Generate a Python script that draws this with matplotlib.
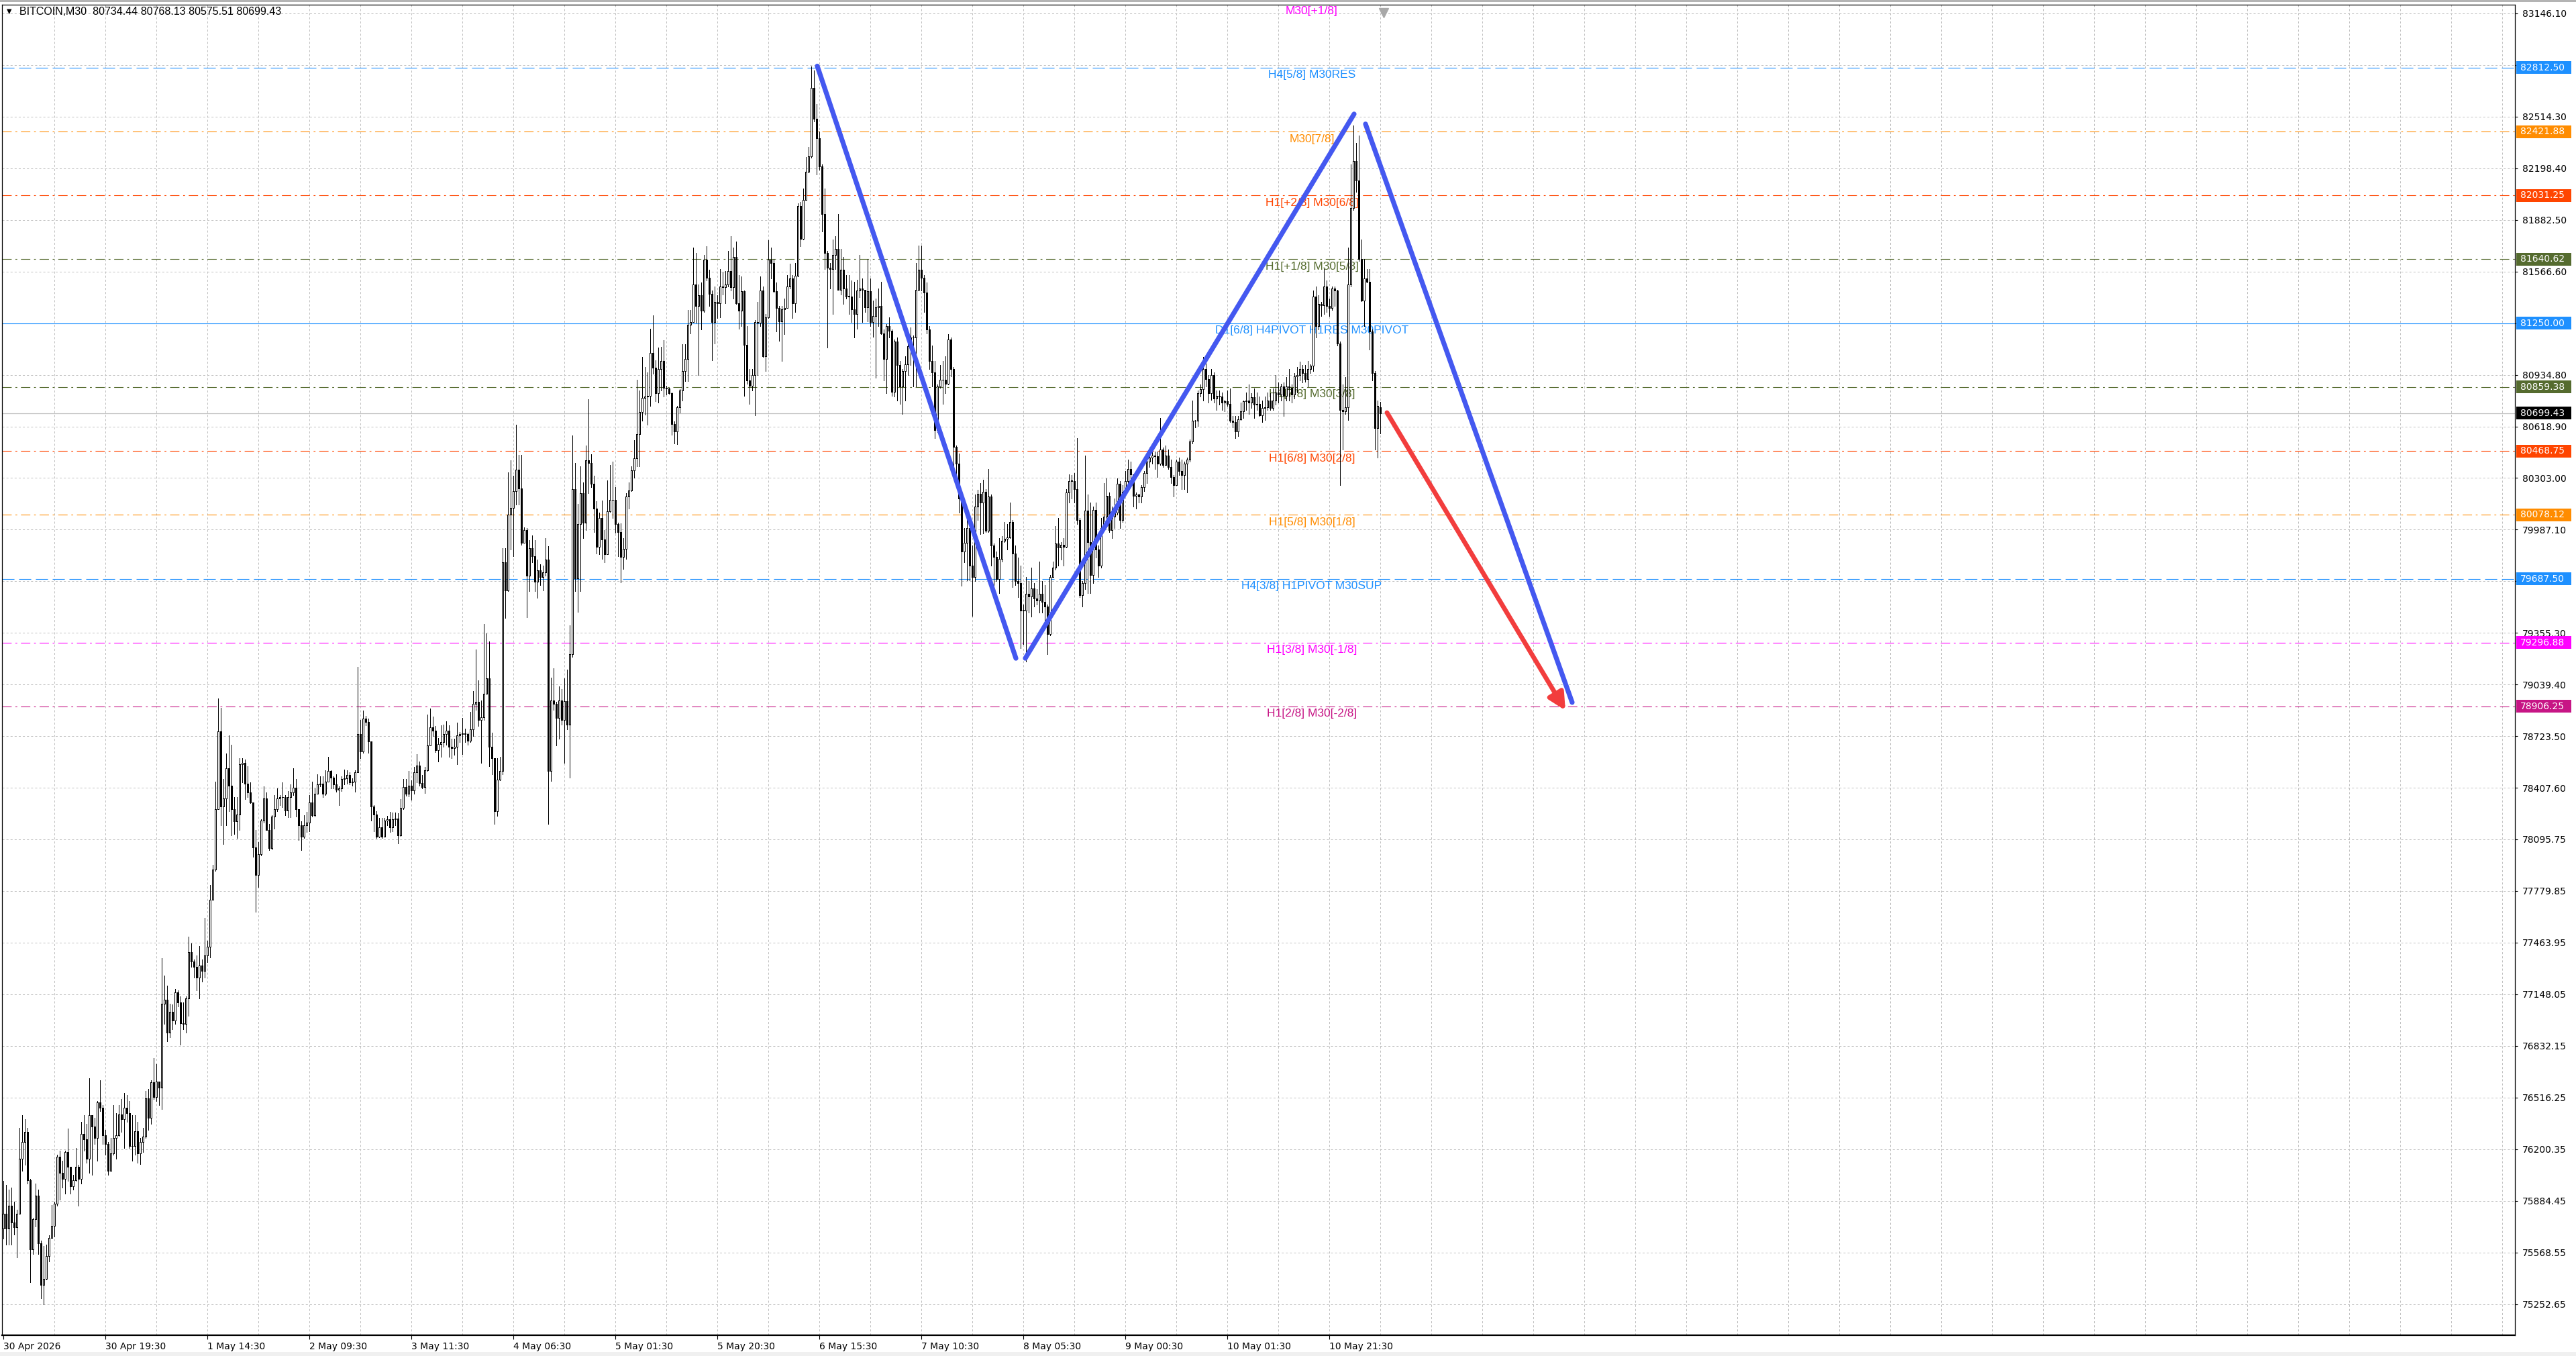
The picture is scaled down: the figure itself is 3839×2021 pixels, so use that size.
import matplotlib
matplotlib.use("Agg")
import matplotlib.pyplot as plt
import numpy as np
from matplotlib.patches import Rectangle
from matplotlib.transforms import blended_transform_factory

plt.rcParams["lines.scale_dashes"] = False

# BITCOIN M30 candles (open = previous close)
first_open = 75715
last_bar = [80734.44, 80768.13, 80575.51, 80699.43]  # O H L C of the live bar

closes = [
    75803, 75715, 75853, 75753, 75722, 75803, 76142, 76243, 76305, 76009,
    75589, 75770, 75916, 75622, 75371, 75406, 75546, 75657, 75732, 75866,
    76155, 76054, 76016, 76180, 76092, 75974, 76009, 76092, 76016, 76293,
    76260, 76142, 76406, 76336, 76268, 76486, 76451, 76285, 76230, 76067,
    76175, 76268, 76285, 76411, 76381, 76451, 76419, 76217, 76217, 76310,
    76175, 76243, 76275, 76512, 76393, 76607, 76519, 76612, 76577, 77089,
    77115, 76914, 77039, 76984, 77160, 77097, 76971, 76966, 77122, 77404,
    77348, 77316, 77248, 77323, 77291, 77386, 77436, 77725, 77909, 78278,
    78756, 78296, 78346, 78529, 78421, 78278, 78203, 78245, 78555, 78562,
    78436, 78379, 78321, 78044, 77876, 78002, 78210, 78346, 78152, 78039,
    78235, 78278, 78346, 78354, 78351, 78271, 78354, 78379, 78411, 78278,
    78178, 78110, 78178, 78195, 78321, 78240, 78371, 78429, 78436, 78371,
    78447, 78512, 78472, 78429, 78396, 78404, 78462, 78467, 78487, 78441,
    78447, 78504, 78738, 78630, 78831, 78813, 78693, 78296, 78245, 78110,
    78168, 78110, 78208, 78217, 78168, 78217, 78221, 78119, 78286, 78414,
    78374, 78423, 78394, 78502, 78547, 78437, 78414, 78516, 78669, 78777,
    78757, 78639, 78678, 78688, 78737, 78757, 78659, 78653, 78659, 78731,
    78737, 78741, 78737, 78698, 78767, 78924, 78933, 78825, 78841, 78986,
    79077, 78659, 78590, 78266, 78457, 78512, 79787, 79614, 80081, 80120,
    80222, 80356, 80238, 79908, 79987, 79708, 79875, 79826, 79669, 79738,
    79699, 79728, 79803, 78512, 78943, 78924, 78835, 78943, 78825, 78939,
    78796, 79228, 80234, 79689, 80022, 80209, 80032, 80411, 80395, 80268,
    80116, 79881, 80058, 79928, 79836, 80101, 80169, 80169, 80022, 79973,
    79822, 79869, 80189, 80228, 80352, 80425, 80572, 80709, 80792, 80803,
    80807, 81070, 80977, 80823, 80970, 81020, 80856, 80850, 80823, 80635,
    80587, 80737, 80840, 80956, 81031, 81239, 81258, 81486, 81354, 81421,
    81325, 81637, 81527, 81431, 81258, 81378, 81373, 81474, 81469, 81486,
    81570, 81469, 81654, 81373, 81325, 81445, 81119, 80898, 80869, 80934,
    81258, 81253, 81450, 81047, 81287, 81637, 81618, 81445, 81342, 81263,
    81335, 81342, 81474, 81522, 81373, 81541, 81966, 81767, 82002, 82175,
    82271, 82687, 82502, 82382, 82207, 81918, 81678, 81590, 81582, 81666,
    81702, 81455, 81575, 81462, 81414, 81414, 81335, 81306, 81450, 81462,
    81455, 81349, 81445, 81258, 81294, 81349, 81354, 81186, 81030, 81234,
    81205, 80830, 81138, 80994, 80862, 80958, 80999, 81109, 81162, 81162,
    81455, 81575, 81527, 81438, 81210, 81018, 80950, 80597, 80862, 80902,
    80902, 80878, 81150, 80970, 80494, 80393, 80177, 79853, 79908, 79997,
    79768, 79697, 80129, 80206, 80153, 80220, 79980, 80189, 79889, 79821,
    79684, 79809, 79918, 79932, 79941, 80033, 79841, 79673, 79661, 79493,
    79493, 79596, 79577, 79629, 79565, 79553, 79596, 79548, 79517, 79348,
    79697, 79757, 79901, 79877, 79894, 79884, 80213, 80285, 80285, 80237,
    80045, 79588, 79661, 80105, 79913, 79709, 80110, 79865, 79768, 79997,
    80069, 80196, 79985, 80069, 80093, 80268, 80045, 80220, 80285, 80357,
    80326, 80196, 80201, 80189, 80249, 80333, 80405, 80429, 80441, 80436,
    80393, 80477, 80381, 80441, 80369, 80309, 80261, 80405, 80345, 80321,
    80393, 80417, 80525, 80652, 80652, 80821, 80845, 80970, 80910, 80821,
    80934, 80790, 80807, 80802, 80766, 80773, 80758, 80652, 80646, 80590,
    80662, 80711, 80773, 80778, 80766, 80797, 80754, 80758, 80686, 80730,
    80734, 80778, 80730, 80778, 80826, 80814, 80862, 80807, 80862, 80854,
    80814, 80926, 80934, 80970, 80946, 80910, 80970, 80989, 81414, 81234,
    81366, 81359, 81474, 81354, 81342, 81462, 81450, 81126, 80718, 80711,
    80734, 81486, 81955, 82243, 82123, 81642, 81390, 81522, 81503, 81198,
    80946, 80609, 80742,
]

highs = [
    76004, 75979, 75954, 75966, 75878, 75828, 76331, 76406, 76381, 76331,
    76016, 75778, 75991, 75954, 75639, 75607, 75614, 75672, 75858, 75878,
    76167, 76192, 76130, 76192, 76326, 76092, 76042, 76205, 76104, 76368,
    76406, 76356, 76632, 76406, 76393, 76494, 76620, 76469, 76318, 76243,
    76268, 76469, 76419, 76469, 76506, 76544, 76532, 76494, 76406, 76406,
    76368, 76268, 76331, 76557, 76569, 76620, 76758, 76720, 76607, 77366,
    77260, 77198, 77089, 77084, 77180, 77172, 77135, 77097, 77135, 77499,
    77456, 77361, 77386, 77441, 77361, 77612, 77474, 77813, 77939, 78447,
    78957, 78899, 78462, 78617, 78730, 78673, 78354, 78354, 78592, 78592,
    78580, 78542, 78441, 78278, 78152, 78077, 78215, 78416, 78379, 78190,
    78240, 78366, 78404, 78366, 78441, 78366, 78391, 78429, 78529, 78462,
    78266, 78203, 78240, 78261, 78366, 78447, 78404, 78492, 78479, 78479,
    78517, 78597, 78517, 78479, 78492, 78416, 78479, 78522, 78517, 78504,
    78467, 78517, 79150, 78823, 78881, 78849, 78831, 78555, 78303, 78266,
    78227, 78227, 78227, 78237, 78260, 78257, 78257, 78253, 78339, 78463,
    78463, 78512, 78453, 78535, 78614, 78571, 78488, 78535, 78855, 78894,
    78845, 78786, 78712, 78790, 78796, 78816, 78790, 78708, 78708, 78806,
    78751, 78835, 78771, 78747, 78875, 79002, 79253, 79065, 78943, 79410,
    79355, 79306, 78747, 78590, 78590, 78600, 79875, 79875, 80336, 80411,
    80317, 80630, 80444, 80444, 80003, 79999, 79924, 79954, 79924, 79806,
    79777, 79767, 79934, 79885, 79084, 79139, 78933, 79031, 79012, 79077,
    79130, 79404, 80562, 80395, 80144, 80375, 80277, 80503, 80784, 80450,
    80317, 80160, 80091, 80164, 79983, 80287, 80381, 80405, 80248, 80032,
    80026, 79934, 80209, 80277, 80375, 80533, 80905, 80837, 81045, 80983,
    80949, 81216, 81298, 81024, 81100, 81106, 81147, 80867, 80853, 80826,
    80648, 80744, 80847, 81120, 81120, 81332, 81330, 81714, 81678, 81486,
    81498, 81666, 81719, 81575, 81450, 81474, 81421, 81582, 81565, 81570,
    81690, 81781, 81714, 81750, 81546, 81534, 81450, 81234, 80970, 80970,
    81270, 81378, 81534, 81474, 81306, 81758, 81714, 81642, 81498, 81354,
    81354, 81402, 81546, 81613, 81546, 81618, 81983, 81990, 82074, 82267,
    82327, 82819, 82795, 82591, 82423, 82219, 82074, 81690, 81618, 81762,
    81781, 81918, 81702, 81654, 81546, 81546, 81510, 81503, 81517, 81666,
    81522, 81450, 81642, 81522, 81390, 81402, 81462, 81503, 81210, 81246,
    81287, 81210, 81150, 81162, 81018, 80970, 81047, 81126, 81222, 81174,
    81618, 81726, 81726, 81546, 81498, 81234, 81114, 81018, 80874, 80994,
    81018, 81047, 81181, 81162, 80982, 80501, 80453, 80201, 79997, 80105,
    80009, 79889, 80201, 80230, 80273, 80292, 80237, 80357, 80201, 79901,
    79853, 79937, 79949, 80033, 80021, 80153, 80045, 79889, 79817, 79768,
    79529, 79697, 79673, 79757, 79661, 79625, 79793, 79673, 79649, 79529,
    79709, 79793, 80009, 80057, 79913, 79937, 80237, 80326, 80321, 80333,
    80549, 80057, 79673, 80441, 80201, 80153, 80129, 80153, 79889, 80057,
    80273, 80302, 80213, 80129, 80177, 80302, 80285, 80261, 80345, 80417,
    80405, 80230, 80213, 80206, 80261, 80345, 80417, 80489, 80513, 80465,
    80465, 80669, 80489, 80501, 80477, 80417, 80321, 80417, 80429, 80417,
    80405, 80429, 80537, 80777, 80657, 80838, 80874, 81042, 81054, 80934,
    80970, 80950, 80838, 80838, 80826, 80782, 80838, 80850, 80682, 80682,
    80682, 80766, 80778, 80826, 80874, 80821, 80850, 80826, 80802, 80778,
    80802, 80826, 80821, 80850, 80934, 80886, 80878, 80886, 80922, 80970,
    80874, 80946, 80982, 81013, 80994, 80994, 81018, 80999, 81450, 81474,
    81421, 81378, 81582, 81510, 81402, 81474, 81474, 81455, 81138, 80874,
    80922, 81714, 82219, 82459, 82351, 82399, 81762, 81642, 81582, 81582,
    81210, 80958, 80778,
]

lows = [
    75652, 75614, 75614, 75614, 75677, 75539, 75803, 76067, 76104, 75991,
    75388, 75557, 75727, 75557, 75288, 75250, 75401, 75514, 75657, 75665,
    75853, 75891, 75966, 75928, 76004, 75928, 75954, 76004, 75853, 75991,
    76192, 76117, 76054, 76042, 76230, 76130, 76431, 76230, 76167, 76042,
    76067, 76167, 76142, 76280, 76305, 76205, 76368, 76205, 76130, 76167,
    76117, 76109, 76180, 76268, 76318, 76356, 76506, 76494, 76469, 76444,
    76964, 76858, 76883, 76934, 76966, 77072, 76838, 76934, 76914, 77014,
    77316, 77248, 77172, 77122, 77223, 77248, 77341, 77373, 77725, 77901,
    78278, 78178, 78065, 78178, 78266, 78120, 78127, 78102, 78152, 78441,
    78341, 78354, 78316, 77989, 77650, 77801, 77994, 78195, 78152, 78027,
    78034, 78160, 78266, 78303, 78291, 78240, 78228, 78228, 78366, 78235,
    78090, 78027, 78102, 78140, 78145, 78235, 78235, 78371, 78416, 78354,
    78366, 78447, 78404, 78404, 78386, 78303, 78391, 78429, 78436, 78429,
    78421, 78386, 78504, 78592, 78622, 78793, 78622, 78210, 78145, 78100,
    78104, 78100, 78115, 78178, 78139, 78143, 78178, 78070, 78115, 78280,
    78359, 78355, 78335, 78374, 78443, 78423, 78404, 78378, 78512, 78669,
    78727, 78629, 78570, 78600, 78659, 78672, 78600, 78590, 78610, 78555,
    78688, 78614, 78688, 78672, 78688, 78727, 78884, 78786, 78561, 78825,
    78982, 78541, 78492, 78188, 78237, 78453, 78492, 79449, 79610, 79865,
    79826, 80140, 80140, 79895, 79924, 79453, 79610, 79787, 79610, 79571,
    79650, 79614, 79708, 78188, 78449, 78884, 78669, 78708, 78796, 78561,
    78767, 78472, 79208, 79610, 79483, 79610, 79934, 79987, 80209, 80248,
    79973, 79842, 79836, 79807, 79787, 79973, 80097, 80058, 79967, 79826,
    79665, 79748, 79807, 80116, 80222, 80306, 80375, 80375, 80655, 80689,
    80628, 80744, 80942, 80771, 80765, 80840, 80801, 80812, 80819, 80566,
    80514, 80512, 80703, 80778, 80895, 80895, 81186, 81258, 81253, 80934,
    81210, 81318, 81510, 81354, 81022, 81126, 81282, 81287, 81426, 81373,
    81474, 81450, 81402, 81366, 81215, 81234, 80807, 80878, 80758, 80838,
    80686, 80934, 81234, 81042, 80958, 81282, 81522, 81438, 81198, 81143,
    81018, 81181, 81342, 81462, 81282, 81318, 81534, 81719, 81762, 82007,
    82171, 82262, 82483, 82159, 82190, 81811, 81582, 81102, 81462, 81306,
    81582, 81455, 81426, 81366, 81402, 81306, 81258, 81162, 81215, 81407,
    81258, 81318, 81263, 81234, 81167, 80917, 81234, 81181, 80898, 80821,
    81162, 80807, 80802, 80778, 80758, 80693, 80778, 80934, 80994, 80862,
    80862, 81450, 81450, 81318, 81186, 80970, 80862, 80549, 80585, 80854,
    80758, 80821, 80874, 80926, 80321, 80261, 80093, 79644, 79788, 79677,
    79677, 79461, 79673, 80045, 79961, 79965, 79973, 79973, 79768, 79576,
    79673, 79601, 79793, 79913, 79865, 79937, 79637, 79649, 79576, 79264,
    79288, 79180, 79481, 79457, 79517, 79529, 79481, 79481, 79433, 79228,
    79341, 79697, 79745, 79768, 79805, 79768, 79877, 80153, 80177, 80153,
    80021, 79576, 79517, 79625, 79601, 79601, 79661, 79817, 79697, 79757,
    79985, 80057, 79973, 79937, 79997, 80081, 79997, 80033, 80201, 80261,
    80261, 80129, 80117, 80153, 80153, 80225, 80273, 80369, 80393, 80357,
    80309, 80381, 80369, 80381, 80357, 80273, 80189, 80333, 80321, 80237,
    80237, 80213, 80405, 80513, 80614, 80621, 80802, 80778, 80862, 80766,
    80782, 80766, 80718, 80754, 80718, 80711, 80742, 80646, 80614, 80549,
    80561, 80657, 80669, 80718, 80693, 80730, 80669, 80718, 80682, 80646,
    80657, 80718, 80718, 80718, 80754, 80766, 80778, 80682, 80778, 80778,
    80766, 80790, 80826, 80898, 80886, 80893, 80862, 80946, 80958, 81162,
    81210, 81294, 81306, 81318, 81294, 81330, 81354, 81114, 80261, 80477,
    80693, 80657, 81474, 81943, 82051, 81630, 81383, 81234, 81498, 81090,
    80898, 80477, 80429,
]

# Murrey math levels drawn on the chart
level_prices = [83203.12, 82812.50, 82421.88, 82031.25, 81640.62, 81250.00,
                80859.38, 80468.75, 80078.12, 79687.50, 79296.88, 78906.25]
level_names = ["M30[+1/8]", "H4[5/8] M30RES", "M30[7/8]", "H1[+2/8] M30[6/8]",
               "H1[+1/8] M30[5/8]", "D1[6/8] H4PIVOT H1RES M30PIVOT",
               "H1[7/8] M30[3/8]", "H1[6/8] M30[2/8]", "H1[5/8] M30[1/8]",
               "H4[3/8] H1PIVOT M30SUP", "H1[3/8] M30[-1/8]", "H1[2/8] M30[-2/8]"]
level_colors = ["#FF00FF", "#1E90FF", "#FF8C00", "#FF4500", "#556B2F", "#1E90FF",
                "#556B2F", "#FF4500", "#FF8C00", "#1E90FF", "#FF00FF", "#C71585"]
level_styles = ["dashdot", "dash", "dashdot", "dashdot", "dashdot", "solid",
                "dashdot", "dashdot", "dashdot", "dash", "dashdot", "dashdot"]

price_ticks = [83146.10, 82830.20, 82514.30, 82198.40, 81882.50, 81566.60, 81250.70,
               80934.80, 80618.90, 80303.00, 79987.10, 79671.20, 79355.30, 79039.40,
               78723.50, 78407.60, 78095.75, 77779.85, 77463.95, 77148.05, 76832.15,
               76516.25, 76200.35, 75884.45, 75568.55, 75252.65]

time_labels = ["30 Apr 2026", "30 Apr 19:30", "1 May 14:30", "2 May 09:30",
               "3 May 11:30", "4 May 06:30", "5 May 01:30", "5 May 20:30",
               "6 May 15:30", "7 May 10:30", "8 May 05:30", "9 May 00:30",
               "10 May 01:30", "10 May 21:30"]
bars_per_label = 38

# hand drawn zigzag (bar index, price) and the red forecast arrow
wave_bars = [[303.25, 377.25], [380.75, 503.25], [507.5, 584.5]]
wave_prices = [[82822, 79201], [79201, 82529], [82468, 78931]]
arrow_bars = [515.5, 582.0]
arrow_prices = [80703, 78882]

# ---- build OHLC ----
n = min(len(closes), len(highs), len(lows))
c = np.array(closes[:n] + [last_bar[3]], dtype=float)
o = np.concatenate([[first_open], c[:-1]])
o[-1] = last_bar[0]
h = np.array(highs[:n] + [last_bar[1]], dtype=float)
l = np.array(lows[:n] + [last_bar[2]], dtype=float)
h = np.maximum(h, np.maximum(o, c))
l = np.minimum(l, np.minimum(o, c))
x = np.arange(len(c))

W, H = 3839, 2021
fig = plt.figure(figsize=(W / 100, H / 100), dpi=100)
fig.patch.set_facecolor("white")
ax = fig.add_axes([3 / W, 1 - 1990 / H, 3745 / W, 1983 / H])
ax.set_xlim(-0.5, 935.75)
ax.set_ylim(75061.9, 83197.4)

grid_style = dict(color="#C0C0C0", lw=0.72, ls=(0, (2.2, 2.2)), zorder=1)
for p in price_ticks:
    ax.axhline(p, **grid_style)
for gx in range(19, 936, 19):
    ax.axvline(gx, **grid_style)

dash_map = {"dash": (0, (13, 5)), "dashdot": (0, (10, 4, 2, 4)), "solid": "-"}
for p, name, col, st in zip(level_prices, level_names, level_colors, level_styles):
    ax.axhline(p, color=col, lw=0.8, ls=dash_map[st], zorder=1.5)
    ax.annotate(name, (487.5, p), xytext=(0, -2.5), textcoords="offset points",
                ha="center", va="top", color=col, fontsize=12.5,
                family="Liberation Sans", annotation_clip=False, zorder=1.6)

ax.axhline(last_bar[3], color="#C0C0C0", lw=0.9, zorder=1.5)

# candles, drawn crisp like the terminal does
ax.vlines(x, l, h, color="black", lw=0.7, zorder=3, antialiased=False)
up = c >= o
body_low = np.minimum(o, c)
body_h = np.maximum(np.abs(c - o), 2.0)
ax.bar(x, body_h, bottom=body_low, width=0.5,
       color=np.where(up, "white", "black"), edgecolor="black",
       linewidth=0.7, zorder=4, antialiased=False)

for bx, py in zip(wave_bars, wave_prices):
    ax.plot(bx, py, color="#4458F0", lw=5.2, solid_capstyle="round", zorder=6)
ax.annotate("", xy=(arrow_bars[1], arrow_prices[1]),
            xytext=(arrow_bars[0], arrow_prices[0]),
            arrowprops=dict(arrowstyle="-|>", color="#F23D3D", lw=5,
                            mutation_scale=38, shrinkA=0, shrinkB=0,
                            capstyle="round"),
            zorder=6)

# chart shift marker
ax.plot([len(c) + 0.3], [0.994], marker="v", color="#A8A8A8", ms=10,
        transform=blended_transform_factory(ax.transData, ax.transAxes),
        clip_on=False, zorder=7)

# axes look
for side in ["left", "right", "top", "bottom"]:
    ax.spines[side].set_color("black")
    ax.spines[side].set_linewidth(0.9)
ax.spines["bottom"].set_linewidth(1.6)

ax.yaxis.tick_right()
ax.set_yticks(price_ticks)
ax.set_yticklabels([f"{p:.2f}" for p in price_ticks])
ax.tick_params(axis="y", direction="out", length=3, width=0.8, pad=5,
               labelsize=10, colors="black")
label_pos = [i * bars_per_label for i in range(len(time_labels))]
ax.set_xticks(label_pos)
ax.set_xticklabels(time_labels, ha="left")
ax.tick_params(axis="x", direction="out", length=4, width=0.8, pad=3,
               labelsize=10, colors="black")

# price boxes on the right scale
tr = blended_transform_factory(fig.transFigure, ax.transData)
box_prices = level_prices[1:6] + [level_prices[6], last_bar[3]] + level_prices[7:]
box_colors = level_colors[1:6] + [level_colors[6], "black"] + level_colors[7:]
half = 9.5 * 4.1026
for p, col in zip(box_prices, box_colors):
    ax.add_patch(Rectangle((3750 / W, p - half), 82 / W, 2 * half, transform=tr,
                           facecolor=col, edgecolor="none", clip_on=False, zorder=8))
    ax.text(3756 / W, p, f"{p:.2f}", transform=tr, color="white", fontsize=10,
            ha="left", va="center", clip_on=False, zorder=9)

# header
fig.text(10 / W, 1 - 17 / H, "\u25bc", fontsize=7, va="center", ha="left",
         family="DejaVu Sans")
fig.text(29 / W, 1 - 17 / H,
         "BITCOIN,M30  " + " ".join(f"{v:.2f}" for v in last_bar),
         fontsize=11.5, va="center", ha="left", family="Liberation Sans")

fig.patches.append(Rectangle((0, 1 - 3 / H), 1, 3 / H, transform=fig.transFigure,
                             facecolor="#B4B4B4", edgecolor="none"))
fig.patches.append(Rectangle((0, 0), 1, 6 / H, transform=fig.transFigure,
                             facecolor="#F0F0F0", edgecolor="none"))

fig.savefig("out.png", dpi=100)
